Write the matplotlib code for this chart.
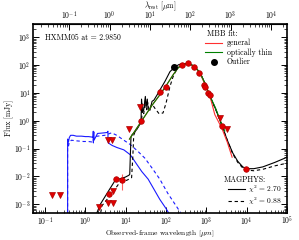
import numpy as np
import matplotlib
matplotlib.use("Agg")
import matplotlib.pyplot as plt
from matplotlib.ticker import LogLocator, NullFormatter, FixedLocator

plt.rcParams['font.family'] = ['cmr10', 'DejaVu Serif']
plt.rcParams['mathtext.fontset'] = 'cm'
plt.rcParams['axes.unicode_minus'] = False
plt.rcParams['axes.formatter.use_mathtext'] = True

z = 2.985
title_text = "HXMM05 at = 2.9850"

# detections
det_x = [3.8, 5.8, 8.0, 24, 70, 100, 250, 350, 500, 650, 870, 950, 1100, 1220, 2400, 9800]
det_y = [0.0023, 0.0083, 0.0077, 1.0, 11, 17, 105, 120, 89, 53, 19, 16.6, 10.2, 8.5, 0.65, 0.019]
det_err = [0, 0, 0.0045, 0, 0, 0, 0, 0, 0, 0, 0, 0, 0, 0, 0, 0]
# upper limits
ul_x = [0.153, 0.231, 2.2, 3.6, 4.8, 4.8, 3.6, 4.5, 12.4, 22, 2150, 3250]
ul_y = [0.0022, 0.0022, 0.0008, 0.0011, 0.0011, 0.0031, 0.2, 0.2, 0.49, 3.2, 1.26, 0.49]
# outlier
out_x = [160]
out_y = [86]

# MBB general (red) and optically thin (green)
mbb_gen_x = [12.4, 25, 45, 70, 100, 150, 200, 260, 330, 420, 520, 700, 900, 1200, 1620, 2400, 3300, 4350]
mbb_gen_y = [0.22, 1.0, 3.6, 8.5, 18, 45, 80, 105, 110, 102, 85, 50, 22, 8.5, 1.66, 0.55, 0.17, 0.049]
mbb_thin_x = [12.4, 25, 45, 70, 100, 150, 200, 260, 330, 420, 520, 700, 900, 1220, 1700, 2400, 2870]
mbb_thin_y = [0.22, 1.0, 3.6, 8.5, 18, 45, 80, 105, 112, 104, 88, 52, 24, 8, 2.8, 0.75, 0.43]

# MAGPHYS chi2 = 2.70 (solid) total
mag1_x = [1.94, 2.35, 4.1, 5.5, 7.3, 9.7, 12.0, 12.6, 13.0, 13.5, 14, 17, 22, 24, 24.7, 26, 28, 30.7, 32, 34.3, 36, 40, 45, 50, 60, 71, 94, 125, 167, 210, 260, 330, 420, 520, 700, 900, 1200, 1700, 2400, 3300, 4500, 6000, 8000, 10000, 15000, 25000, 50000, 100000]
mag1_y = [0.0005, 0.001, 0.0037, 0.0073, 0.0083, 0.0094, 0.011, 0.012, 0.05, 0.25, 0.3, 0.4, 0.7, 1.0, 6.0, 2.0, 2.5, 7.5, 3.0, 6.0, 2.5, 2.4, 5.0, 5.5, 8.5, 13, 26, 58, 87, 105, 112, 112, 104, 88, 52, 24, 8, 2.6, 0.72, 0.2, 0.07, 0.035, 0.022, 0.019, 0.019, 0.022, 0.032, 0.049]
# MAGPHYS chi2 = 0.88 (dashed) total
mag2_x = [2.4, 2.6, 4.6, 7.3, 10.7, 14, 15, 15.8, 17, 22, 25, 26, 28, 31, 33, 35, 38, 45, 53, 67, 84, 100, 125, 149, 187, 235, 300, 380, 520, 700, 900, 1200, 1700, 2400, 3300, 4500, 6000, 8000, 10000, 15000, 25000, 50000, 100000]
mag2_y = [0.0005, 0.0009, 0.0025, 0.0064, 0.0073, 0.009, 0.05, 0.3, 0.4, 0.7, 1.2, 4.0, 1.8, 6.0, 2.5, 4.5, 2.5, 4.0, 2.8, 1.8, 1.9, 4.3, 17, 38, 74, 100, 112, 110, 88, 52, 24, 8, 2.6, 0.7, 0.2, 0.065, 0.032, 0.02, 0.017, 0.016, 0.018, 0.024, 0.030]

# stellar (blue)
st1_x = [0.363, 0.363, 0.38, 0.40, 0.43, 0.5, 0.6, 0.8, 1.0, 1.2, 1.45, 1.55, 1.57, 1.58, 1.6, 1.62, 1.64, 2.0, 2.5, 3.0, 3.5, 3.62, 3.65, 3.7, 4.6, 6, 9, 13, 18, 25, 36, 50, 70, 100, 115]
st1_y = [0.0005, 0.22, 0.17, 0.25, 0.3, 0.3, 0.28, 0.28, 0.27, 0.27, 0.26, 0.25, 0.42, 0.16, 0.33, 0.4, 0.2, 0.35, 0.36, 0.37, 0.38, 0.42, 0.2, 0.16, 0.13, 0.11, 0.09, 0.06, 0.03, 0.015, 0.008, 0.0035, 0.0015, 0.0007, 0.0005]
st2_x = [0.363, 0.363, 0.38, 0.40, 0.45, 0.6, 0.9, 1.2, 1.55, 1.6, 2.0, 3.0, 4.5, 6, 9, 13, 20, 30, 45, 70, 110, 160, 230]
st2_y = [0.0005, 0.16, 0.12, 0.17, 0.2, 0.19, 0.18, 0.18, 0.17, 0.26, 0.28, 0.3, 0.37, 0.3, 0.2, 0.14, 0.08, 0.045, 0.02, 0.008, 0.0025, 0.0011, 0.0005]

fig = plt.figure(figsize=(2.99, 2.40), dpi=100)
ax = fig.add_axes([0.110, 0.114, 0.850, 0.786])
ax.set_xscale('log')
ax.set_yscale('log')

ax.plot(st1_x, st1_y, color='#1a1aff', lw=0.8)
ax.plot(st2_x, st2_y, color='#1a1aff', lw=0.8, ls=(0, (3, 2.5)))
ax.plot(mag1_x, mag1_y, color='k', lw=0.8)
ax.plot(mag2_x, mag2_y, color='k', lw=0.8, ls=(0, (3, 2.5)))
ax.plot(mbb_gen_x, mbb_gen_y, color='#ff3030', lw=0.8)
ax.plot(mbb_thin_x, mbb_thin_y, color='#008000', lw=0.8)

ax.errorbar(det_x, det_y, yerr=det_err, fmt='o', color='#e00000', mec='#b00000', mew=0.5, ms=4, elinewidth=0.8, ecolor='#ff6060', capsize=0, zorder=5)
ax.plot(ul_x, ul_y, 'v', color='#e00000', mec='#b00000', mew=0.5, ms=4, zorder=5, ls='none')
ax.plot(out_x, out_y, 'o', color='k', ms=4, zorder=6, ls='none')

ax.set_xlim(0.05, 1e5)
ax.set_ylim(5e-4, 3e3)

ax.tick_params(which='both', direction='in', top=False, right=True, labelsize=5.5, pad=1.5)
ax.tick_params(which='major', length=4, width=0.7)
ax.tick_params(which='minor', length=2, width=0.5)
ax.xaxis.set_major_locator(FixedLocator([1e-1, 1e0, 1e1, 1e2, 1e3, 1e4, 1e5]))
ax.xaxis.set_minor_locator(LogLocator(base=10, subs=np.arange(2, 10), numticks=20))
ax.yaxis.set_major_locator(FixedLocator([1e-3, 1e-2, 1e-1, 1e0, 1e1, 1e2, 1e3]))
ax.yaxis.set_minor_locator(LogLocator(base=10, subs=np.arange(2, 10), numticks=20))
ax.xaxis.set_minor_formatter(NullFormatter())
ax.yaxis.set_minor_formatter(NullFormatter())
for s in ax.spines.values():
    s.set_linewidth(1.2)

sec = ax.secondary_xaxis('top', functions=(lambda x: x / (1 + z), lambda x: x * (1 + z)))
sec.set_xscale('log')
sec.xaxis.set_major_locator(FixedLocator([1e-1, 1e0, 1e1, 1e2, 1e3, 1e4]))
sec.xaxis.set_minor_locator(LogLocator(base=10, subs=np.arange(2, 10), numticks=20))
sec.xaxis.set_minor_formatter(NullFormatter())
sec.tick_params(which='both', direction='in', labelsize=5.5, pad=1.5)
sec.tick_params(which='major', length=4, width=0.7)
sec.tick_params(which='minor', length=2, width=0.5)
sec.set_xlabel(r'$\lambda_{\rm rest}$ [$\mu$m]', fontsize=5.5, labelpad=0.8)

ax.set_xlabel(r'Observed-frame wavelength [$\mu m$]', fontsize=5.4, labelpad=0.2)
ax.set_ylabel('Flux [mJy]', fontsize=5.5, labelpad=0)

ax.text(0.048, 0.928, title_text, transform=ax.transAxes, fontsize=5.6, va='center', ha='left')

# MBB legend (manual)
fs = 5.6
ax.text(0.684, 0.947, 'MBB fit:', transform=ax.transAxes, fontsize=fs, va='center', ha='left')
ax.plot([0.678, 0.744], [0.898, 0.898], transform=ax.transAxes, color='#ff3030', lw=0.8)
ax.text(0.764, 0.898, 'general', transform=ax.transAxes, fontsize=fs, va='center', ha='left')
ax.plot([0.678, 0.744], [0.849, 0.849], transform=ax.transAxes, color='#008000', lw=0.8)
ax.text(0.764, 0.849, 'optically thin', transform=ax.transAxes, fontsize=fs, va='center', ha='left')
ax.plot([0.711], [0.801], 'o', transform=ax.transAxes, color='k', ms=4)
ax.text(0.764, 0.801, 'Outlier', transform=ax.transAxes, fontsize=fs, va='center', ha='left')

# MAGPHYS legend (manual)
fs2 = 5.4
ax.text(0.752, 0.176, 'MAGPHYS:', transform=ax.transAxes, fontsize=fs, va='center', ha='left')
ax.plot([0.769, 0.835], [0.123, 0.123], transform=ax.transAxes, color='k', lw=0.8)
ax.text(0.848, 0.123, r'$\chi^2$ = 2.70', transform=ax.transAxes, fontsize=fs2, va='center', ha='left')
ax.plot([0.769, 0.835], [0.060, 0.060], transform=ax.transAxes, color='k', lw=0.8, ls=(0, (3, 2.5)))
ax.text(0.848, 0.060, r'$\chi^2$ = 0.88', transform=ax.transAxes, fontsize=fs2, va='center', ha='left')

fig.savefig('out.png', dpi=100)
